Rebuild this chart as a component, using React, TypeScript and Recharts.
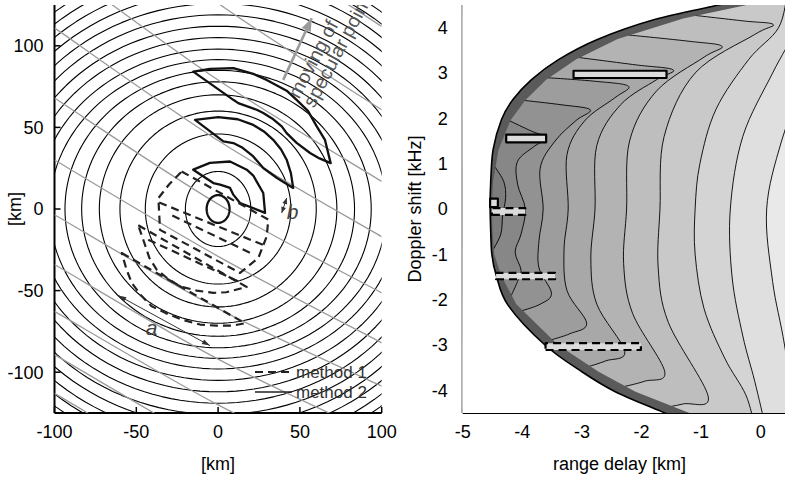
import React from 'react';
import { ComposedChart, Scatter, XAxis, YAxis, Legend, Label } from 'recharts';

const FONT = '"Liberation Sans", Arial, Helvetica, sans-serif';

type XY = [number, number];

// ---------------- left panel: surface map [km] ----------------
// iso-range ellipses (semi axes along x / y)
const rangeRx = [20, 44.5, 60, 72.6, 83.4, 93.6, 103, 111, 119, 126, 133, 139.5, 145.5, 151.5, 157, 162.5, 168, 173, 178, 183];
const rangeRy = [23, 46, 60, 70, 78, 85, 91.5, 98, 105, 112, 119, 126, 133, 140, 147, 153, 159, 165, 171, 177];
const centreRx = 7;
const centreRy = 8.5;

// iso-Doppler lines (grey): y at x = -100, 0, 100
const dopplerLeft = [256, 200, 151, 111, 68, 30, -3.5, -34, -62.7, -89.2, -113];
const dopplerMid = [179, 126, 79, 42, 3, -29, -61, -92, -120, -147, -171];
const dopplerRight = [111.8, 60.8, 16.9, -17, -51.4, -82, -108.6, -140, -168, -195, -220];

// method 2 (solid) regions
const method2Outer: XY[] = [[-15.2, 84.2], [-5, 85.8], [9.3, 86.3], [21.5, 82.8], [29.7, 79.1], [41.9, 72.5], [48, 66.9], [55, 60], [60.3, 50.6], [65.3, 42.4], [68.8, 28.1], [62, 31], [56.2, 34.3], [48, 40.5], [41.9, 46.5], [38.9, 50.6], [33, 55.5], [27.6, 58.8], [23.6, 60.8], [12.3, 64.9], [9.3, 66.9]];
const method2Middle: XY[] = [[-14.1, 54.6], [0.1, 56.3], [12, 55], [21.5, 51.5], [28, 47.5], [33.7, 42.4], [38.5, 36.5], [41.9, 30.2], [44.5, 22], [45.9, 12.9], [36, 19], [27.6, 25.1], [21.5, 32.2], [15, 37.5], [9.3, 40.4], [3.2, 41.4]];
const method2Inner: XY[] = [[-15.2, 24.1], [-5, 28.3], [7.3, 29.1], [17.5, 24.1], [21.5, 20.5], [27.6, 9.8], [28.7, -2.4], [13.4, 3.7], [9.3, 8.8], [7.3, 12.9], [1.2, 14.9], [-2.9, 15.9]];

// method 1 (dashed) regions
const method1Inner: XY[] = [[-22.3, 23], [30.7, -6.5], [29.7, -16.8], [24.6, -30], [13.4, -39.2], [-35.5, -12.8], [-36.5, 6.7], [-30, 15]];
const method1InnerCuts: XY[][] = [[[-36, 4], [27.5, -22]], [[-28, -4], [22, -28]]];
const method1Middle: XY[] = [[-48.8, -10], [17.5, -47.8], [5, -51], [-2.9, -51.4], [-13, -50], [-23.3, -47.4], [-31, -42.5], [-37.5, -37.2], [-42, -30], [-45.7, -19]];
const method1MiddleCut: XY[] = [[-42.7, -18.8], [14.4, -45.3]];
const method1Outer: XY[] = [[-58.9, -27], [16.4, -70], [9.3, -71.4], [-1, -71.5], [-11, -70.8], [-22.2, -67.8], [-32, -63.8], [-40.6, -59.6], [-47, -53], [-52.8, -45.3], [-56, -37]];

const arrowA: XY[] = [[-61, -53], [-5, -83.7]];
const arrowB: XY[] = [[41.9, 6.7], [38.9, -2.4]];
const arrowMove: XY[] = [[39.8, 79.1], [57.2, 116.9]];
const labelA: XY = [-40.6, -72.8];
const labelB: XY = [45.5, -1.5];
const labelMove1: XY = [49.5, 67];
const labelMove2: XY = [58.7, 61.5];

// ---------------- right panel: delay-Doppler map ----------------
const edgeOuter: XY[] = [[0.3, 4.8], [-0.67, 4.51], [-1.78, 4.18], [-2.74, 3.74], [-3.4, 3.29], [-3.85, 2.85], [-4.16, 2.41], [-4.35, 1.97], [-4.49, 1.31], [-4.53, 0.6], [-4.54, 0.1], [-4.53, -0.5], [-4.51, -1.01], [-4.44, -1.45], [-4.24, -2.12], [-3.62, -3.0], [-3.0, -3.59], [-2.44, -4.03], [-1.66, -4.47], [-1.08, -4.8]];
const edgeInner: XY[] = [[0.83, 4.8], [-0.2, 4.51], [-1.3, 4.2], [-2.4, 3.75], [-3.1, 3.3], [-3.6, 2.85], [-3.95, 2.4], [-4.2, 1.95], [-4.4, 1.3], [-4.49, 0.6], [-4.51, 0.1], [-4.5, -0.5], [-4.47, -1.0], [-4.36, -1.45], [-4.1, -2.1], [-3.4, -3.0], [-2.72, -3.59], [-2.1, -4.03], [-1.25, -4.47], [-0.61, -4.8]];

const contours: XY[][] = [
  [[-4.47, 0.95], [-4.31, 0.6], [-4.28, 0.25], [-4.33, -0.15], [-4.36, -0.55], [-4.49, -0.9]],
  [[-4.22, 1.95], [-3.85, 1.72], [-3.59, 1.57], [-3.8, 1.38], [-4.08, 1.05], [-4.08, 0.55], [-3.95, 0], [-4.02, -0.55], [-4.12, -0.95], [-4.02, -1.35], [-4.08, -1.6], [-4.2, -1.95]],
  [[-4.0, 2.4], [-3.35, 2.3], [-2.86, 2.19], [-3.1, 1.95], [-3.45, 1.5], [-3.7, 0.9], [-3.65, 0], [-3.72, -0.7], [-3.72, -1.3], [-3.51, -1.86], [-3.7, -2.1], [-4.02, -2.25]],
  [[-3.62, 2.9], [-2.8, 2.82], [-2.22, 2.71], [-2.45, 2.45], [-2.95, 1.95], [-3.25, 1.2], [-3.23, 0], [-3.3, -0.9], [-3.25, -1.8], [-2.92, -2.52], [-3.2, -2.75], [-3.55, -2.9]],
  [[-3.1, 3.35], [-2.1, 3.18], [-1.47, 3.07], [-1.75, 2.85], [-2.35, 2.3], [-2.75, 1.4], [-2.78, 0], [-2.85, -1.1], [-2.75, -2.1], [-2.28, -3.14], [-2.6, -3.35], [-2.95, -3.5]],
  [[-2.3, 3.85], [-1.2, 3.7], [-0.65, 3.59], [-0.95, 3.35], [-1.75, 2.6], [-2.2, 1.5], [-2.25, 0], [-2.3, -1.2], [-2.15, -2.3], [-1.61, -3.59], [-1.95, -3.8], [-2.4, -3.95]],
  [[-1.3, 4.3], [-0.3, 4.15], [0.21, 4.07], [-0.1, 3.85], [-1.1, 3.0], [-1.62, 1.6], [-1.69, 0], [-1.72, -1.3], [-1.55, -2.5], [-0.88, -4.14], [-1.3, -4.3], [-1.7, -4.4]],
  [[0.45, 4.8], [0.3, 4.0], [-0.2, 3.3], [-0.75, 2.2], [-1.02, 1.0], [-1.1, 0], [-1.1, -1.0], [-0.95, -2.2], [-0.6, -3.3], [-0.25, -4.1], [-0.1, -4.8]],
  [[0.75, 4.8], [0.6, 4.0], [0.2, 3.0], [-0.3, 1.6], [-0.51, 0], [-0.48, -1.5], [-0.3, -2.8], [-0.1, -3.8], [0.08, -4.8]],
  [[1.2, 4.8], [0.8, 3.2], [0.35, 1.5], [0.1, 0], [0.2, -1.6], [0.4, -3.0], [0.6, -4.8]],
];
const levelShades = ['#7c7c7c', '#878787', '#929292', '#9d9d9d', '#a8a8a8', '#b3b3b3', '#bebebe', '#c9c9c9', '#d4d4d4', '#dfdfdf'];
const outerShade = '#e9e9e9';

// measured cells
const cellX1 = [-3.14, -4.27, -4.54, -4.51, -4.44, -3.61];
const cellX2 = [-1.58, -3.6, -4.41, -3.95, -3.45, -2.01];
const cellY1 = [2.89, 1.47, 0.04, -0.13, -1.55, -3.11];
const cellY2 = [3.05, 1.64, 0.23, 0.02, -1.41, -2.96];
const cellDashed = [false, false, false, true, true, true];

// ---------------- helpers ----------------
const toData = (pts: XY[]) => pts.map(([x, y]) => ({ x, y }));

const ellipsePts = (rx: number, ry: number): XY[] =>
  Array.from({ length: 145 }, (_, i) => {
    const t = (i / 144) * Math.PI * 2;
    return [rx * Math.cos(t), ry * Math.sin(t)] as XY;
  });

const arrowHead = (tip: any, from: any, len: number, half: number) => {
  const a = Math.atan2(tip.y - from.y, tip.x - from.x);
  const bx = tip.x - len * Math.cos(a);
  const by = tip.y - len * Math.sin(a);
  return `M${tip.x},${tip.y}L${bx - half * Math.sin(a)},${by + half * Math.cos(a)}L${bx + half * Math.sin(a)},${by - half * Math.cos(a)}Z`;
};

// draws the pixel points handed over by <Scatter line>
const Poly = (props: any) => {
  const { points, lc = 'none', fc = 'none', lw = 1, dash, closed = false, smoothN = 0, heads = 0, headLen = 8, headHalf = 3 } = props;
  if (!points || points.length < 2) return null;
  const p = points;
  let d = `M${p[0].x},${p[0].y}`;
  for (let i = 1; i < p.length; i++) {
    if (i < smoothN) {
      const p0 = p[Math.max(i - 2, 0)];
      const p1 = p[i - 1];
      const p2 = p[i];
      const p3 = p[Math.min(i + 1, smoothN - 1)];
      const c1x = p1.x + (p2.x - p0.x) / 6;
      const c1y = p1.y + (p2.y - p0.y) / 6;
      const c2x = p2.x - (p3.x - p1.x) / 6;
      const c2y = p2.y - (p3.y - p1.y) / 6;
      d += `C${c1x},${c1y} ${c2x},${c2y} ${p2.x},${p2.y}`;
    } else {
      d += `L${p[i].x},${p[i].y}`;
    }
  }
  if (closed) d += 'Z';
  const n = p.length;
  const tips: string[] = [];
  if (heads >= 1) tips.push(arrowHead(p[n - 1], p[n - 2], headLen, headHalf));
  if (heads >= 2) tips.push(arrowHead(p[0], p[1], headLen, headHalf));
  return (
    <g>
      <path d={d} fill={fc} stroke={lc} strokeWidth={lw} strokeDasharray={dash} strokeLinejoin="round" />
      {tips.map((t, i) => (
        <path key={i} d={t} fill={lc} stroke="none" />
      ))}
    </g>
  );
};

const blank = () => <g />;

function trace(key: string, pts: XY[], style: any) {
  return (
    <Scatter
      key={key}
      data={toData(pts)}
      isAnimationActive={false}
      shape={blank}
      legendType="none"
      line={<Poly {...style} />}
    />
  );
}

function note(key: string, at: XY, text: string, style: any, angle = 0) {
  return (
    <Scatter
      key={key}
      data={toData([at])}
      isAnimationActive={false}
      legendType="none"
      shape={(p: any) => (
        <text
          x={p.cx}
          y={p.cy}
          transform={angle ? `rotate(${angle} ${p.cx} ${p.cy})` : undefined}
          fontFamily={FONT}
          {...style}
        >
          {text}
        </text>
      )}
    />
  );
}

const axisLine = { stroke: '#000', strokeWidth: 2 };
const tickLine = { stroke: '#000', strokeWidth: 1.5 };
const tickText = { fill: '#000', fontSize: 18, fontFamily: FONT };
const noText = () => '';

const MethodLegend = () => (
  <svg width={132} height={42}>
    <line x1={5} y1={11} x2={42} y2={11} stroke="#222" strokeWidth={2} strokeDasharray="8 5" />
    <text x={46} y={11} dominantBaseline="central" fontSize={17} fontFamily={FONT} fill="#333">method 1</text>
    <line x1={5} y1={31} x2={42} y2={31} stroke="#222" strokeWidth={1.6} />
    <text x={46} y={31} dominantBaseline="central" fontSize={17} fontFamily={FONT} fill="#333">method 2</text>
  </svg>
);

const SurfaceMap = () => {
  const dashed = { lc: '#222', lw: 2.2, dash: '8 5' };
  const solid = { lc: '#111', lw: 2.3 };
  return (
    <ComposedChart width={402} height={479} margin={{ top: 5, right: 20.3, bottom: 0, left: 0 }}>
      <XAxis type="number" dataKey="x" domain={[-100, 100]} ticks={[-100, -50, 0, 50, 100]} allowDataOverflow height={66} tickSize={-6} tickMargin={18} axisLine={axisLine} tickLine={tickLine} tick={tickText}>
        <Label content={(p: any) => (
          <text x={p.viewBox.x + p.viewBox.width / 2} y={470} textAnchor="middle" fontSize={18} fontFamily={FONT} fill="#000">[km]</text>
        )} />
      </XAxis>
      <XAxis xAxisId="top" orientation="top" type="number" domain={[-100, 100]} ticks={[-100, -50, 0, 50, 100]} allowDataOverflow height={0} tickSize={-6} tickFormatter={noText} axisLine={axisLine} tickLine={tickLine} />
      <YAxis type="number" dataKey="y" domain={[-125, 125]} ticks={[-100, -50, 0, 50, 100]} allowDataOverflow width={54.5} tickSize={-6} tickMargin={17} axisLine={axisLine} tickLine={tickLine} tick={tickText}>
        <Label content={(p: any) => {
          const cy = p.viewBox.y + p.viewBox.height / 2;
          return <text x={15} y={cy} transform={`rotate(-90 15 ${cy})`} textAnchor="middle" dominantBaseline="central" fontSize={18} fontFamily={FONT} fill="#000">[km]</text>;
        }} />
      </YAxis>
      <YAxis yAxisId="right" orientation="right" type="number" domain={[-125, 125]} ticks={[-100, -50, 0, 50, 100]} allowDataOverflow width={0} tickSize={-6} tickFormatter={noText} axisLine={axisLine} tickLine={tickLine} />

      {rangeRx.map((rx, i) => trace(`range-${i}`, ellipsePts(rx, rangeRy[i]), { lc: '#000', lw: 1.1 }))}
      {dopplerLeft.map((yl, i) =>
        trace(`doppler-${i}`, [[-100, yl], [0, dopplerMid[i]], [100, dopplerRight[i]]], { lc: '#9b9b9b', lw: 1.3, smoothN: 3 }),
      )}

      {trace('m2-centre', ellipsePts(centreRx, centreRy), { lc: '#111', lw: 2.3 })}
      {trace('m2-inner', method2Inner, { ...solid, closed: true })}
      {trace('m2-middle', method2Middle, { ...solid, closed: true })}
      {trace('m2-outer', method2Outer, { ...solid, closed: true })}

      {trace('m1-inner', method1Inner, { ...dashed, closed: true })}
      {method1InnerCuts.map((c, i) => trace(`m1-cut-${i}`, c, dashed))}
      {trace('m1-middle', method1Middle, { ...dashed, closed: true })}
      {trace('m1-middle-cut', method1MiddleCut, dashed)}
      {trace('m1-outer', method1Outer, { ...dashed, closed: true })}

      {trace('arrow-a', arrowA, { lc: '#333', lw: 1, heads: 2, headLen: 8, headHalf: 2.5 })}
      {trace('arrow-b', arrowB, { lc: '#333', lw: 1, heads: 2, headLen: 6, headHalf: 2.5 })}
      {trace('arrow-move', arrowMove, { lc: '#9a9a9a', lw: 2.6, heads: 1, headLen: 13, headHalf: 5 })}
      {note('label-a', labelA, 'a', { fontSize: 21, fontStyle: 'italic', fill: '#444', textAnchor: 'middle', dominantBaseline: 'central' })}
      {note('label-b', labelB, 'b', { fontSize: 21, fontStyle: 'italic', fill: '#444', textAnchor: 'middle', dominantBaseline: 'central' })}
      {note('label-move-1', labelMove1, 'moving of', { fontSize: 19.5, fill: '#555' }, -62)}
      {note('label-move-2', labelMove2, 'specular point', { fontSize: 19.5, fill: '#555' }, -62)}

      <Legend layout="horizontal" verticalAlign="middle" align="center" wrapperStyle={{ left: 250, top: 361, width: 132, height: 42 }} content={() => <MethodLegend />} />
    </ComposedChart>
  );
};

const DelayDopplerMap = () => {
  const rev = (pts: XY[]) => pts.slice().reverse();
  const band: XY[] = [...edgeOuter, ...rev(edgeInner)];
  const mask: XY[] = [...edgeOuter, [-6, -4.8], [-6, 4.8]];
  const backdrop: XY[] = [[-6, 5], [1.5, 5], [1.5, -5], [-6, -5]];
  return (
    <ComposedChart width={410} height={479} margin={{ top: 5, right: 9.5, bottom: 0, left: 0 }}>
      <XAxis type="number" dataKey="x" domain={[-5, 0.5]} ticks={[-5, -4, -3, -2, -1, 0]} allowDataOverflow height={66} tickSize={-6} tickMargin={18} axisLine={axisLine} tickLine={tickLine} tick={tickText}>
        <Label content={(p: any) => (
          <text x={p.viewBox.x + p.viewBox.width / 2 - 7} y={470} textAnchor="middle" fontSize={18} fontFamily={FONT} fill="#000">range delay [km]</text>
        )} />
      </XAxis>
      <XAxis xAxisId="top" orientation="top" type="number" domain={[-5, 0.5]} ticks={[-5, -4, -3, -2, -1, 0]} allowDataOverflow height={0} tickSize={-6} tickFormatter={noText} axisLine={axisLine} tickLine={tickLine} />
      <YAxis type="number" dataKey="y" domain={[-4.5, 4.5]} ticks={[-4, -3, -2, -1, 0, 1, 2, 3, 4]} allowDataOverflow width={72.7} tickSize={-6} tickMargin={21} axisLine={axisLine} tickLine={tickLine} tick={tickText}>
        <Label content={(p: any) => {
          const cy = p.viewBox.y + p.viewBox.height / 2;
          return <text x={25} y={cy} transform={`rotate(-90 25 ${cy})`} textAnchor="middle" dominantBaseline="central" fontSize={18} fontFamily={FONT} fill="#000">Doppler shift [kHz]</text>;
        }} />
      </YAxis>

      {trace('backdrop', backdrop, { fc: outerShade, closed: true })}
      {contours
        .map((c, i) => ({ c, i }))
        .reverse()
        .map(({ c, i }) =>
          trace(`level-${i}`, [...c, [-6, c[c.length - 1][1]], [-6, c[0][1]]], { fc: levelShades[i], closed: true, smoothN: c.length }),
        )}
      {contours.map((c, i) => trace(`contour-${i}`, c, { lc: '#000', lw: 0.9, smoothN: c.length }))}
      {trace('outside', mask, { fc: '#fff', closed: true, smoothN: edgeOuter.length })}
      {trace('edge-band', band, { fc: '#5a5a5a', closed: true, smoothN: edgeOuter.length })}
      {trace('edge', edgeOuter, { lc: '#000', lw: 1.6, smoothN: edgeOuter.length })}

      {cellX1.map((x1, i) =>
        trace(`cell-${i}`, [[x1, cellY1[i]], [cellX2[i], cellY1[i]], [cellX2[i], cellY2[i]], [x1, cellY2[i]]], {
          fc: '#dcdcdc',
          lc: '#000',
          lw: 2.2,
          closed: true,
          dash: cellDashed[i] ? '8 5' : undefined,
        }),
      )}
    </ComposedChart>
  );
};

export default function App() {
  return (
    <div style={{ position: 'absolute', left: 0, top: 0, width: 785, height: 479, overflow: 'hidden', background: '#fff', fontFamily: FONT }}>
      <div style={{ position: 'absolute', left: 390, top: 0 }}>
        <DelayDopplerMap />
      </div>
      <div style={{ position: 'absolute', left: 0, top: 0 }}>
        <SurfaceMap />
      </div>
    </div>
  );
}
